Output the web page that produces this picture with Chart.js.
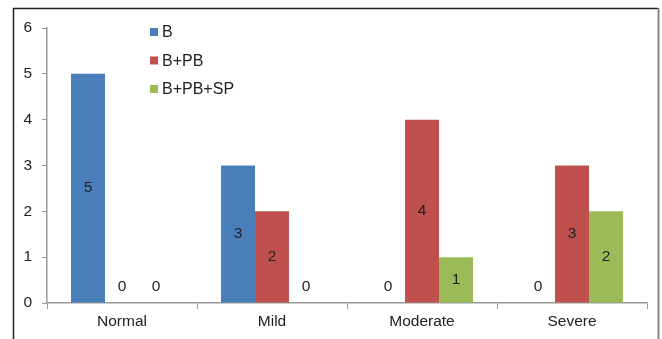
<!DOCTYPE html>
<html>
<head>
<meta charset="utf-8">
<script src="https://cdn.jsdelivr.net/npm/chart.js@4/dist/chart.umd.min.js"></script>
<style>
  html, body { margin: 0; padding: 0; background: #fff; }
  #wrap { width: 662px; height: 339px; position: relative; }
</style>
</head>
<body>
<div id="wrap"><canvas id="c" width="662" height="339"></canvas></div>
<script>
const categories = ['Normal', 'Mild', 'Moderate', 'Severe'];
const seriesNames = ['B', 'B+PB', 'B+PB+SP'];
const valuesB = [5, 3, 0, 0];
const valuesBPB = [0, 2, 4, 3];
const valuesBPBSP = [0, 0, 1, 2];
const yTicks = [0, 1, 2, 3, 4, 5, 6];

const colors = ['#4a7ebb', '#c0504d', '#9bbb59'];
const FONT = 'Liberation Sans, Arial, sans-serif';

// outer frame of the picture
const framePlugin = {
  id: 'frame',
  beforeDraw(chart) {
    const ctx = chart.ctx;
    ctx.save();
    ctx.strokeStyle = '#222';
    ctx.lineWidth = 1.5;
    ctx.beginPath();
    ctx.moveTo(13.5, 339);
    ctx.lineTo(13.5, 8.5);
    ctx.lineTo(658, 8.5);
    ctx.stroke();
    ctx.strokeStyle = '#888';
    ctx.lineWidth = 2;
    ctx.beginPath();
    ctx.moveTo(658.5, 8);
    ctx.lineTo(658.5, 339);
    ctx.stroke();
    ctx.restore();
  }
};

// legend drawn inside the plot area
const insideLegend = {
  id: 'insideLegend',
  afterDraw(chart) {
    const ctx = chart.ctx;
    ctx.save();
    ctx.font = '16px ' + FONT;
    ctx.textBaseline = 'middle';
    ctx.textAlign = 'left';
    chart.data.datasets.forEach((ds, i) => {
      const y = 32 + i * 28.5;
      ctx.fillStyle = ds.backgroundColor;
      ctx.fillRect(150, y - 4, 8, 8);
      ctx.fillStyle = '#222';
      ctx.fillText(ds.label, 162, y + 1);
    });
    ctx.restore();
  }
};

// value labels in the middle of each bar, zeros just above the axis
const valueLabels = {
  id: 'valueLabels',
  afterDatasetsDraw(chart) {
    const ctx = chart.ctx;
    ctx.save();
    ctx.font = '15.5px ' + FONT;
    ctx.fillStyle = '#222';
    ctx.textAlign = 'center';
    ctx.textBaseline = 'middle';
    chart.data.datasets.forEach((ds, i) => {
      chart.getDatasetMeta(i).data.forEach((bar, j) => {
        const v = ds.data[j];
        const y = v === 0 ? bar.base - 16 : (bar.y + bar.base) / 2;
        ctx.fillText(String(v), bar.x, y);
      });
    });
    ctx.restore();
  }
};

new Chart(document.getElementById('c'), {
  type: 'bar',
  data: {
    labels: categories,
    datasets: [valuesB, valuesBPB, valuesBPBSP].map((d, i) => ({
      label: seriesNames[i],
      data: d,
      backgroundColor: colors[i],
      borderWidth: 0,
      barPercentage: 1,
      categoryPercentage: 0.68
    }))
  },
  options: {
    responsive: false,
    animation: false,
    layout: { padding: { top: 28, right: 15, left: 0, bottom: 0 } },
    plugins: {
      legend: { display: false },
      tooltip: { enabled: false }
    },
    scales: {
      x: {
        grid: {
          offset: true,
          drawOnChartArea: false,
          drawTicks: true,
          tickLength: 6,
          color: '#999'
        },
        border: { color: '#999', width: 1.5 },
        ticks: { color: '#222', font: { family: FONT, size: 15.5 }, padding: 3 },
        afterFit(scale) { scale.height = 36; }
      },
      y: {
        min: 0,
        max: 6,
        afterBuildTicks(scale) { scale.ticks = yTicks.map(v => ({ value: v })); },
        grid: {
          drawOnChartArea: false,
          drawTicks: true,
          tickLength: 5,
          color: '#999'
        },
        border: { color: '#999', width: 1.5 },
        ticks: { color: '#222', font: { family: FONT, size: 15.5 }, padding: 10 },
        afterFit(scale) { scale.width = 47; }
      }
    }
  },
  plugins: [framePlugin, insideLegend, valueLabels]
});
</script>
</body>
</html>
